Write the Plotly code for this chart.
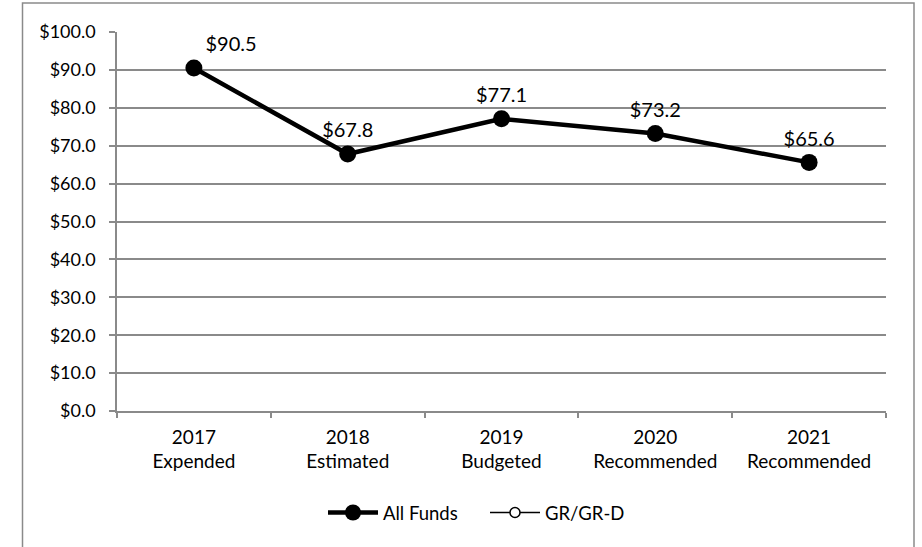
import plotly.graph_objects as go

categories = ["2017<br>Expended", "2018<br>Estimated", "2019<br>Budgeted",
              "2020<br>Recommended", "2021<br>Recommended"]
all_funds = [90.5, 67.8, 77.1, 73.2, 65.6]
gr_grd = [None, None, None, None, None]
label_pos = ["top right", "top center", "top center", "top center", "top center"]

FONT = "Lato"
GRAY = "#8a8a8a"

fig = go.Figure()
fig.add_trace(go.Scatter(
    x=categories, y=all_funds, mode="lines+markers+text", name="All Funds",
    line=dict(color="black", width=4.5),
    marker=dict(color="black", size=17),
    text=[f"${v:.1f}" for v in all_funds], textposition=label_pos,
    textfont=dict(family=FONT, size=20, color="black"),
))
fig.add_trace(go.Scatter(
    x=categories, y=gr_grd, mode="lines+markers", name="GR/GR-D",
    line=dict(color="black", width=1.5),
    marker=dict(color="white", size=10, line=dict(color="black", width=1.5)),
))

pw, ph = 769, 379
fig.add_shape(type="rect", xref="paper", yref="paper",
              x0=(22.5 - 117) / pw, x1=(914 - 117) / pw,
              y0=(411 - 570) / ph, y1=(411 - 3) / ph,
              line=dict(color=GRAY, width=1.5), fillcolor="rgba(0,0,0,0)", layer="below")

fig.update_layout(
    width=922, height=547,
    margin=dict(l=117, r=36, t=32, b=136),
    paper_bgcolor="white", plot_bgcolor="white",
    font=dict(family=FONT, size=18, color="black"),
    showlegend=True,
    legend=dict(orientation="h", x=(323 - 117) / pw, xanchor="left",
                y=(411 - 513) / ph, yanchor="middle",
                font=dict(family=FONT, size=18.5, color="black"),
                itemwidth=50, entrywidth=97, bgcolor="rgba(0,0,0,0)"),
    xaxis=dict(type="category", showgrid=False, showline=True, linecolor=GRAY, linewidth=1.5,
               ticks="outside", tickson="boundaries", ticklen=5, tickcolor=GRAY, tickwidth=1.5,
               ticklabelstandoff=8,
               tickfont=dict(family=FONT, size=19, color="black"), range=[-0.5, 4.5]),
    yaxis=dict(range=[0, 100], dtick=10, tickprefix="$", tickformat=".1f",
               showgrid=True, gridcolor=GRAY, gridwidth=1.5,
               showline=True, linecolor=GRAY, linewidth=1.5,
               ticks="outside", ticklen=6, tickcolor=GRAY, tickwidth=1.5,
               ticklabelstandoff=10,
               tickfont=dict(family=FONT, size=18, color="black"), zeroline=False),
)

fig.write_html("out.html")
